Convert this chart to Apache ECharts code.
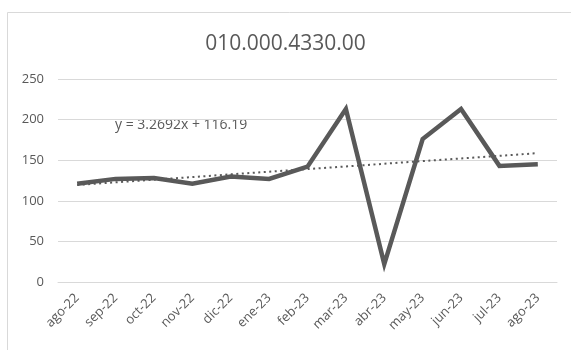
<!DOCTYPE html>
<html>
<head>
<meta charset="utf-8">
<script src="https://cdn.jsdelivr.net/npm/echarts@6/dist/echarts.min.js"></script>
<style>
  html, body { margin: 0; padding: 0; background: #fff; }
  #chart { width: 571px; height: 350px; }
</style>
</head>
<body>
<div id="chart"></div>
<script>
// Monthly series for item 010.000.4330.00
const months = ['ago-22', 'sep-22', 'oct-22', 'nov-22', 'dic-22', 'ene-23', 'feb-23',
                'mar-23', 'abr-23', 'may-23', 'jun-23', 'jul-23', 'ago-23'];
const values = [121, 127, 128, 121, 130, 127, 142, 213, 22, 176, 213, 143, 145];
const yTicks = [0, 50, 100, 150, 200, 250];

// Linear trendline coefficients (x = 1..n)
const trendSlope = 3.2692;
const trendIntercept = 116.19;
const trendValues = months.map((m, i) => +(trendSlope * (i + 1) + trendIntercept).toFixed(2));
const trendLabel = 'y = ' + trendSlope + 'x + ' + trendIntercept;

const textColor = '#595959';
const gridColor = '#d9d9d9';
const font = 'Open Sans';

const chart = echarts.init(document.getElementById('chart'));
chart.setOption({
  animation: false,
  backgroundColor: '#ffffff',
  title: {
    text: '010.000.4330.00',
    left: 'center',
    top: 29,
    textStyle: { color: textColor, fontSize: 21, fontWeight: 'normal', fontFamily: font }
  },
  grid: { left: 58, right: 14, top: 79, bottom: 68 },
  xAxis: {
    type: 'category',
    data: months,
    boundaryGap: true,
    axisLine: { show: true, lineStyle: { color: gridColor, width: 1 } },
    axisTick: { show: false },
    axisLabel: {
      rotate: 45,
      margin: 14,
      color: textColor,
      fontSize: 13,
      fontFamily: font,
      interval: 0
    }
  },
  yAxis: {
    type: 'value',
    min: yTicks[0],
    max: yTicks[yTicks.length - 1],
    interval: yTicks[1] - yTicks[0],
    axisLine: { show: false },
    axisTick: { show: false },
    axisLabel: { color: textColor, fontSize: 13, fontFamily: font, margin: 14 },
    splitLine: { lineStyle: { color: gridColor, width: 1 } }
  },
  series: [
    {
      name: 'valor',
      type: 'line',
      data: values,
      symbol: 'none',
      z: 2,
      lineStyle: { color: textColor, width: 4.5, join: 'miter' }
    },
    {
      name: 'tendencia',
      type: 'line',
      data: trendValues,
      symbol: 'none',
      z: 3,
      lineStyle: { color: textColor, width: 2, type: [2, 3.5] }
    }
  ],
  graphic: [
    {
      type: 'rect',
      left: 5,
      top: 10,
      shape: { width: 620, height: 400 },
      style: { fill: 'none', stroke: gridColor, lineWidth: 1 },
      silent: true,
      z: -1
    },
    {
      type: 'text',
      left: 115,
      top: 118,
      style: { text: trendLabel, fill: textColor, font: '14px "Open Sans"' }
    }
  ]
});
</script>
</body>
</html>
